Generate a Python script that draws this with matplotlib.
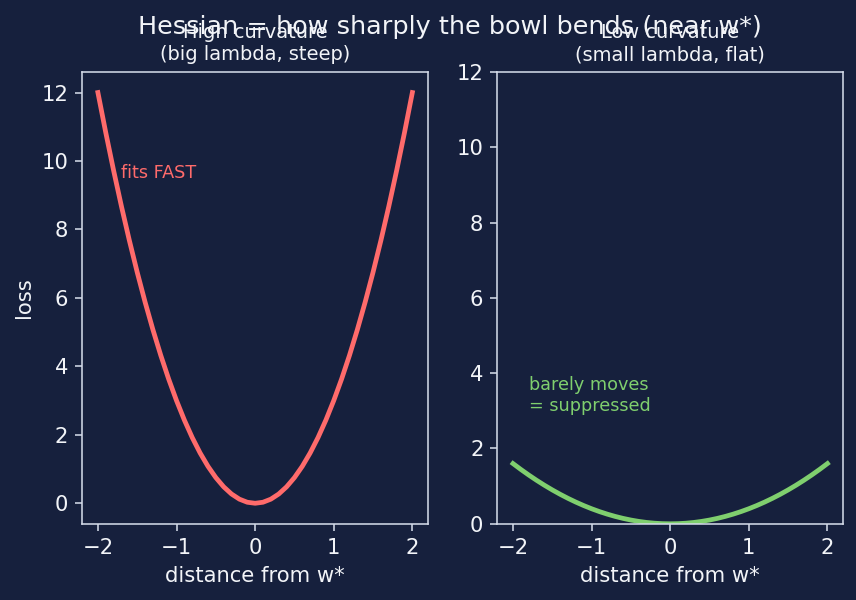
import numpy as np
import matplotlib.pyplot as plt

# distance from w* (step 0.1)
dist = [-2.0, -1.9, -1.8, -1.7, -1.6, -1.5, -1.4, -1.3, -1.2, -1.1, -1.0,
        -0.9, -0.8, -0.7, -0.6, -0.5, -0.4, -0.3, -0.2, -0.1, 0.0,
        0.1, 0.2, 0.3, 0.4, 0.5, 0.6, 0.7, 0.8, 0.9, 1.0,
        1.1, 1.2, 1.3, 1.4, 1.5, 1.6, 1.7, 1.8, 1.9, 2.0]

# steep bowl
loss_high = [12.0, 10.83, 9.72, 8.67, 7.68, 6.75, 5.88, 5.07, 4.32, 3.63, 3.0,
             2.43, 1.92, 1.47, 1.08, 0.75, 0.48, 0.27, 0.12, 0.03, 0.0,
             0.03, 0.12, 0.27, 0.48, 0.75, 1.08, 1.47, 1.92, 2.43, 3.0,
             3.63, 4.32, 5.07, 5.88, 6.75, 7.68, 8.67, 9.72, 10.83, 12.0]

# flat bowl
loss_low = [1.6, 1.444, 1.296, 1.156, 1.024, 0.9, 0.784, 0.676, 0.576, 0.484, 0.4,
            0.324, 0.256, 0.196, 0.144, 0.1, 0.064, 0.036, 0.016, 0.004, 0.0,
            0.004, 0.016, 0.036, 0.064, 0.1, 0.144, 0.196, 0.256, 0.324, 0.4,
            0.484, 0.576, 0.676, 0.784, 0.9, 1.024, 1.156, 1.296, 1.444, 1.6]

bg = '#16203d'
fg = '#f2f4f8'
edge = '#d3dae8'
red = '#ff6b6b'
green = '#7fcf6e'

dpi = 142.6667
fig, (ax1, ax2) = plt.subplots(1, 2, figsize=(856 / dpi, 600 / dpi), dpi=dpi)
fig.patch.set_facecolor(bg)
fig.subplots_adjust(left=0.096, right=0.985, top=0.88, bottom=0.127, wspace=0.2)

for ax in (ax1, ax2):
    ax.set_facecolor(bg)
    for s in ax.spines.values():
        s.set_color(edge)
    ax.tick_params(colors=edge, labelcolor=fg, labelsize=10.7)
    ax.set_xlabel('distance from w*', color=fg, fontsize=10.7)

ax1.plot(dist, loss_high, color=red, lw=2.4)
ax1.set_title('High curvature\n(big lambda, steep)', color=fg, fontsize=9.8)
ax1.set_ylabel('loss', color=fg, fontsize=10.7)
ax1.text(-1.7, 9.5, 'fits FAST', color=red, fontsize=8.9)

ax2.plot(dist, loss_low, color=green, lw=2.4)
ax2.set_title('Low curvature\n(small lambda, flat)', color=fg, fontsize=9.8)
ax2.set_ylim(0, 12)
ax2.text(-1.8, 3, 'barely moves\n= suppressed', color=green, fontsize=8.9)

fig.suptitle('Hessian = how sharply the bowl bends (near w*)', color=fg,
             fontsize=12.9, x=0.526, y=0.975)
plt.savefig('out.png', facecolor=bg)
